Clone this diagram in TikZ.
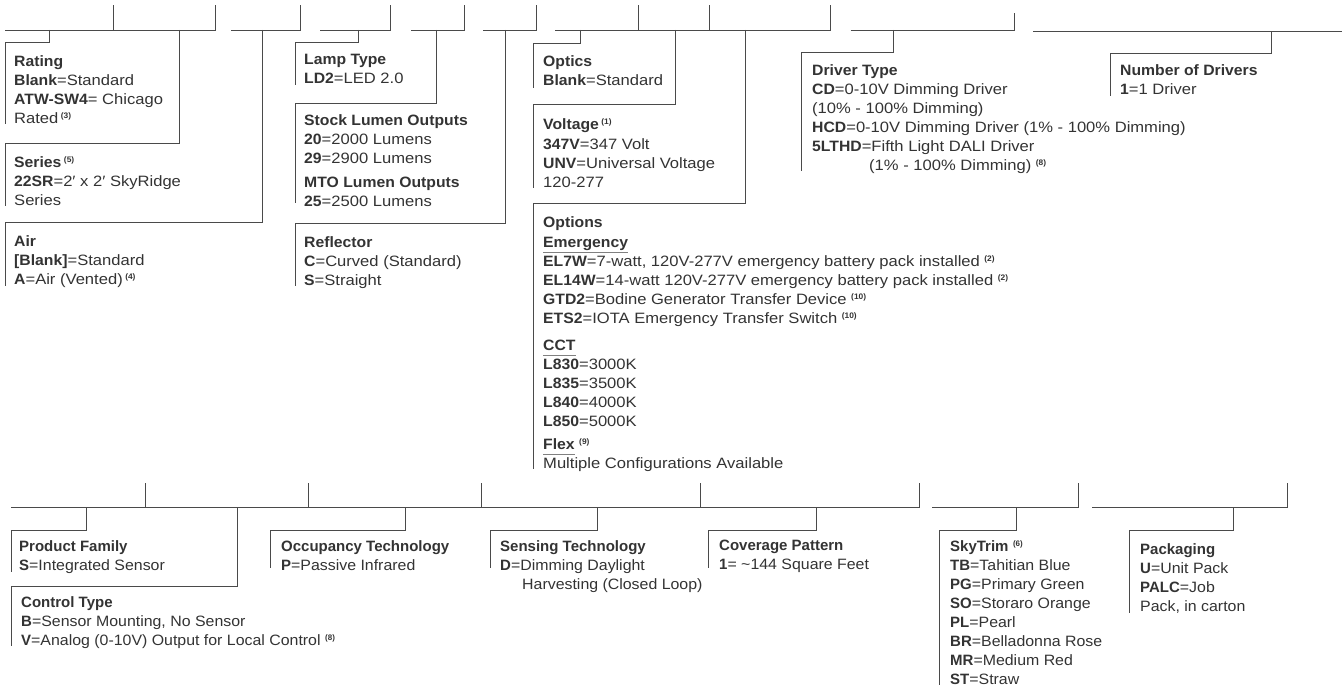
\documentclass[tikz,border=0pt]{standalone}
\usepackage{fontspec}
\setmainfont{Liberation Sans}[FakeStretch=1.105,BoldFeatures={FakeStretch=1.05}]
\newfontfamily\lowfont{Liberation Sans}[FakeStretch=1.06,BoldFeatures={FakeStretch=1.0}]
\definecolor{ink}{HTML}{333333}
\definecolor{rulec}{HTML}{4A4A4A}
\newcommand{\sn}[1]{\raisebox{4.5pt}{\fontsize{8}{8}\selectfont\bfseries(#1)}}
\newcommand{\snw}[1]{\hspace{4.5pt}\sn{#1}}
\newcommand{\ulhead}[1]{\setbox0\hbox{\bfseries #1}\rlap{\color{gray}\vrule width\wd0 height -4.6pt depth 5.5pt}\box0}
\newcommand{\fstl}{\rule{0pt}{10pt}}
\newcommand{\bb}[1]{\textbf{#1}}
% block: name, branch x, rule y, elbow y, left x, bottom y, text x, first baseline, text
\newcommand{\optblock}[9]{%
  \node[lbl] (#1) at (#7,#8-10) {\fstl #9};
  \coordinate (#1r) at (#2,#3);
  \coordinate (#1e) at (#5,#4);
  \coordinate (#1b) at (#5,#6);
  \draw[conn] (#1r) |- (#1e) -- (#1b);
}
% bar: name, x0, x1, y, tick top y
\newcommand{\barline}[5]{%
  \coordinate (#1a) at (#2,#4);
  \coordinate (#1z) at (#3,#4);
  \coordinate (#1t) at (#3,#5);
  \draw[conn] (#1a) -- (#1z) -- (#1t);
}
\newcommand{\tick}[4]{%
  \coordinate (#1a) at (#2,#3);
  \coordinate (#1z) at (#2,#4);
  \draw[conn] (#1a) -- (#1z);
}
\tikzset{
  conn/.style={draw=rulec,line width=0.9pt},
  lbl/.style={anchor=north west,inner sep=0pt,align=left,text=ink,font=\fontsize{15}{19}\selectfont}
}
\begin{document}
\begin{tikzpicture}[x=1pt,y=-1pt]
\useasboundingbox (0,0) rectangle (1342,687);
% top bars
\barline{ta}{5}{215.5}{30}{5}
\tick{tb}{113.5}{30}{5}
\barline{tc}{231}{300.5}{30}{5}
\barline{td}{320}{390}{30}{5}
\barline{te}{411}{464}{30}{5}
\barline{tf}{483}{536}{30}{5}
\barline{tg}{555}{830.5}{30}{5}
\tick{th}{638.5}{30}{5}
\tick{ti}{709.5}{30}{5}
\barline{tj}{850.5}{1014}{30}{13}
\coordinate (tka) at (1033,31.5); \coordinate (tkz) at (1342,31.5);
\draw[conn] (tka) -- (tkz);
% bottom bars
\barline{ba}{11}{919}{507.5}{483}
\tick{bb}{145}{507.5}{483}
\tick{bc}{308}{507.5}{483}
\tick{bd}{481}{507.5}{483}
\tick{be}{700}{507.5}{483}
\barline{bf}{932}{1078}{507.5}{483}
\barline{bg}{1092}{1287}{507.5}{483}
% top blocks
\optblock{rating}{49.5}{30}{42.5}{5.5}{124}{14}{65}{\bb{Rating}\\\bb{Blank}=Standard\\\bb{ATW-SW4}= Chicago\\Rated\,\sn{3}}
\optblock{series}{179.5}{30}{143}{5.5}{206}{14}{166}{\bb{Series}\,\sn{5}\\\bb{22SR}=2′ x 2′ SkyRidge\\Series}
\optblock{air}{262.5}{30}{222.5}{5.5}{286}{14}{245}{\bb{Air}\\\bb{[Blank]}=Standard\\\bb{A}=Air (Vented)\,\sn{4}}
\optblock{lamp}{358.5}{30}{42}{295.5}{85}{304}{64}{\bb{Lamp Type}\\\bb{LD2}=LED 2.0}
\optblock{stock}{436}{30}{103}{295.5}{203}{304}{124}{\bb{Stock Lumen Outputs}\\\bb{20}=2000 Lumens\\\bb{29}=2900 Lumens\\[5.5pt]\bb{MTO Lumen Outputs}\\\bb{25}=2500 Lumens}
\optblock{refl}{505}{30}{223}{295.5}{286}{304}{246}{\bb{Reflector}\\\bb{C}=Curved (Standard)\\\bb{S}=Straight}
\optblock{optics}{580.5}{30}{43}{533.5}{88}{543}{65}{\bb{Optics}\\\bb{Blank}=Standard}
\optblock{volt}{675}{30}{104}{533.5}{188}{543}{128}{\bb{Voltage}\,\sn{1}\\[1.5pt]\bb{347V}=347 Volt\\\bb{UNV}=Universal Voltage\\120-277}
\optblock{opts}{745}{30}{203}{533.5}{469}{543}{226}{\bb{Options}\\[1pt]\ulhead{Emergency}\\\bb{EL7W}=7-watt, 120V-277V emergency battery pack installed\snw{2}\\\bb{EL14W}=14-watt 120V-277V emergency battery pack installed\snw{2}\\\bb{GTD2}=Bodine Generator Transfer Device\snw{10}\\\bb{ETS2}=IOTA Emergency Transfer Switch\snw{10}\\[8pt]\ulhead{CCT}\\\bb{L830}=3000K\\\bb{L835}=3500K\\\bb{L840}=4000K\\\bb{L850}=5000K\\[4pt]\ulhead{Flex}\snw{9}\\Multiple Configurations Available}
\optblock{drv}{893.5}{30}{52}{801.5}{171}{812}{74}{\bb{Driver Type}\\\bb{CD}=0-10V Dimming Driver\\(10\% - 100\% Dimming)\\\bb{HCD}=0-10V Dimming Driver (1\% - 100\% Dimming)\\\bb{5LTHD}=Fifth Light DALI Driver\\\hspace*{57pt}(1\% - 100\% Dimming)\snw{8}}
\optblock{ndrv}{1271}{31.5}{53}{1110}{96}{1120}{74}{\bb{Number of Drivers}\\\bb{1}=1 Driver}
% bottom blocks
\tikzset{lbl/.append style={font=\lowfont\fontsize{15}{19}\selectfont}}
\optblock{fam}{86.5}{507.5}{530}{11}{572}{19}{550}{\bb{Product Family}\\\bb{S}=Integrated Sensor}
\optblock{ctrl}{237.7}{507.5}{586}{11}{646}{21}{606}{\bb{Control Type}\\\bb{B}=Sensor Mounting, No Sensor\\\bb{V}=Analog (0-10V) Output for Local Control\snw{8}}
\optblock{occ}{405}{507.5}{530}{270}{568}{281}{550}{\bb{Occupancy Technology}\\\bb{P}=Passive Infrared}
\optblock{sens}{597}{507.5}{530}{490}{568}{500}{550}{\bb{Sensing Technology}\\\bb{D}=Dimming Daylight\\\hspace*{22pt}Harvesting (Closed Loop)}
\optblock{cov}{816.5}{507.5}{530}{708}{568}{719}{550}{\bb{Coverage Pattern}\\\bb{1}= \textasciitilde144 Square Feet}
\optblock{trim}{1016}{507.5}{530}{939}{685}{950}{550}{\bb{SkyTrim}\snw{6}\\\bb{TB}=Tahitian Blue\\\bb{PG}=Primary Green\\\bb{SO}=Storaro Orange\\\bb{PL}=Pearl\\\bb{BR}=Belladonna Rose\\\bb{MR}=Medium Red\\\bb{ST}=Straw}
\optblock{pack}{1233}{507.5}{530}{1129}{613}{1140}{553}{\bb{Packaging}\\\bb{U}=Unit Pack\\\bb{PALC}=Job\\Pack, in carton}
\end{tikzpicture}
\end{document}
